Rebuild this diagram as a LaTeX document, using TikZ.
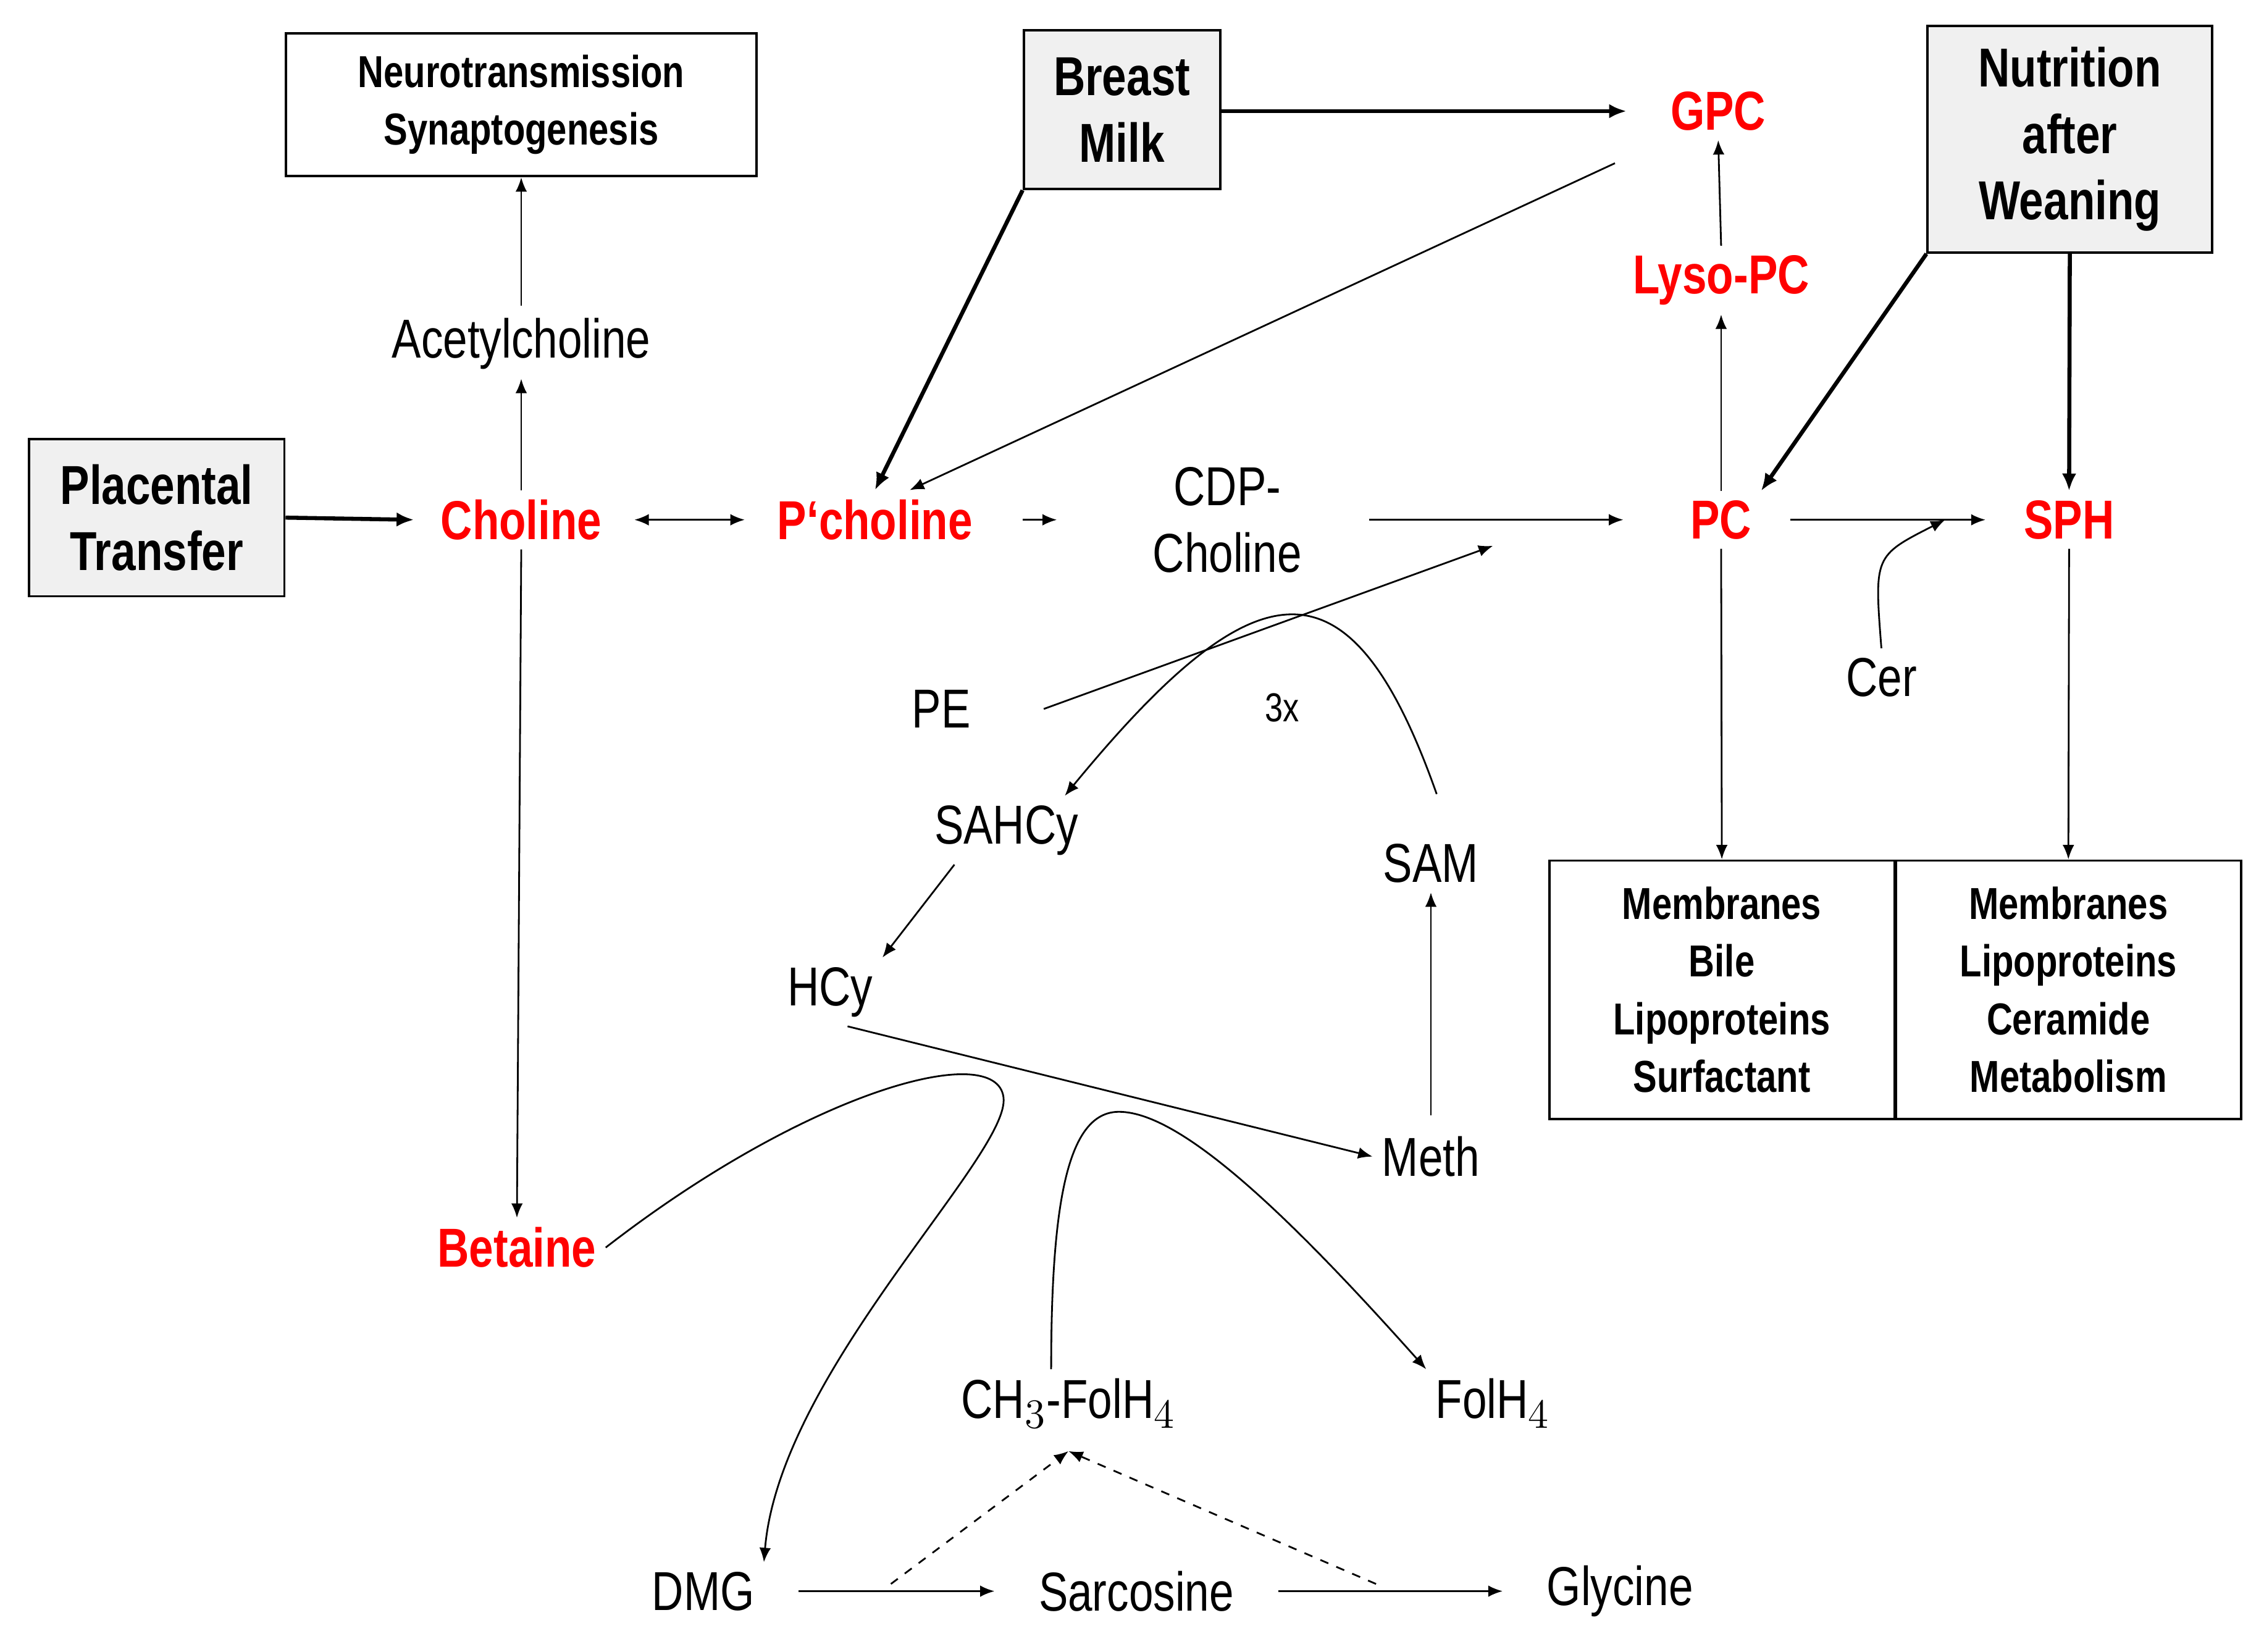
\documentclass[tikz,border=0pt]{standalone}
\usepackage{fontspec}
\setmainfont{Liberation Sans}[FakeStretch=0.8]
\usetikzlibrary{arrows.meta}
\definecolor{boxgray}{RGB}{240,240,240}
\tikzset{every picture/.style={line width=0.6pt}}
\tikzset{
  lbl/.style={font=\fontsize{19}{22}\selectfont, inner sep=3pt, align=center},
  red lbl/.style={font=\fontsize{19}{22}\selectfont\bfseries, text=red, inner sep=3pt},
  info box/.style={draw, line width=0.8pt, font=\fontsize{15.5}{20}\selectfont\bfseries, align=center},
  src box/.style={draw, line width=0.8pt, fill=boxgray, font=\fontsize{19}{23}\selectfont\bfseries, align=center},
  arr/.style={-{Latex[length=5pt,width=4pt]}},
  both arr/.style={{Latex[length=5pt,width=4pt]}-{Latex[length=5pt,width=4pt]}},
  thick arr/.style={-{Latex[length=6pt,width=5pt]}, line width=1.4pt},
}

\begin{document}
\begin{tikzpicture}[x=0.5pt,y=-0.5pt]
\useasboundingbox (0,0) rectangle (1568,1144);

% boxes
\node[info box, minimum width=163pt, minimum height=49.5pt] (neuro) at (361,72.5) {Neurotransmission\\Synaptogenesis};
\node[src box, minimum width=68pt, minimum height=55pt] (milk) at (777,76) {Breast\\Milk};
\node[src box, minimum width=98.5pt, minimum height=78.5pt] (nutr) at (1433.5,96.5) {Nutrition\\after\\Weaning};
\node[src box, minimum width=88.5pt, minimum height=54.5pt] (plac) at (108.5,358.5) {Placental\\Transfer};
\node[info box, minimum width=119.5pt, minimum height=89.5pt] (memA) at (1192.5,685.5) {Membranes\\Bile\\Lipoproteins\\Surfactant};
\node[info box, minimum width=119.5pt, minimum height=89.5pt] (memB) at (1432.5,685.5) {Membranes\\Lipoproteins\\Ceramide\\Metabolism};

% metabolites
\node[lbl] (ach) at (361,238) {Acetylcholine};
\node[red lbl] (chol) at (361,360) {Choline};
\node[red lbl] (pchol) at (606,360) {P‘choline};
\node[lbl, font=\fontsize{19}{23}\selectfont] (cdp) at (850,360) {CDP-\\Choline};
\node[red lbl] (pc) at (1192,360) {PC};
\node[red lbl] (sph) at (1433,360) {SPH};
\node[red lbl] (gpc) at (1190,77) {GPC};
\node[red lbl] (lyso) at (1192,194) {Lyso-PC};
\node[lbl] (cer) at (1303,469) {Cer};
\node[lbl] (pe) at (652,491) {PE};
\node[lbl, font=\fontsize{14}{16}\selectfont] (three) at (888,490) {3x};
\node[lbl] (sahcy) at (697,575) {SAHCy};
\node[lbl] (sam) at (991,598) {SAM};
\node[lbl] (hcy) at (575,687) {HCy};
\node[lbl] (meth) at (991,801) {Meth};
\node[red lbl] (bet) at (358,864) {Betaine};
\node[lbl] (mfol) at (740,972) {CH$_3$-FolH$_4$};
\node[lbl] (fol) at (1034,972) {FolH$_4$};
\node[lbl] (dmg) at (487,1102) {DMG};
\node[lbl] (sarc) at (787,1102) {Sarcosine};
\node[lbl] (gly) at (1122,1102) {Glycine};
\coordinate (cdpin) at (1034,378);
\coordinate (fpt) at (740,1005);

% connectors
\draw[arr] (ach.north) ++(0,-2) -- (neuro.south);
\draw[arr] (chol.north) -- (ach.south);
\draw[thick arr] (plac.east) -- ([xshift=-6pt]chol.west);
\draw[both arr, shorten <=8pt, shorten >=8pt] (chol.east) -- (pchol.west);
\draw[arr, shorten <=14pt, shorten >=14pt] (pchol.east) -- (cdp.east -| 760,0);
\draw[arr] ([xshift=20pt]cdp.east) -- ([xshift=-20pt]pc.west);
\draw[arr] ([xshift=22pt]pe.east) -- (cdpin);
\draw[arr, shorten <=10pt, shorten >=10pt] (pc.east) -- (sph.west);
\draw[arr] (cer.north) .. controls (1298,385) .. ([xshift=-24pt]sph.west);
\draw[arr] (pc.north) -- (lyso.south);
\draw[arr] (lyso.north) -- (gpc.south);
\draw[thick arr] (milk.east |- gpc) -- ([xshift=-12pt]gpc.west);
\draw[thick arr] (milk.south west) -- (pchol.north);
\draw[arr] ([xshift=-16pt,yshift=-8pt]gpc.south west) -- ([xshift=12pt]pchol.north);
\draw[thick arr] (nutr.south west) -- (pc.north east);
\draw[thick arr] (nutr.south) -- (sph.north);
\draw[arr] (pc.south) -- (memA.north);
\draw[arr] (sph.south) -- (memB.north);
\draw[arr] (chol.south) -- (bet.north);
\draw[arr] (sam.north) ++(4,-28) .. controls (935,380) and (870,390) .. ([xshift=-8pt]sahcy.north east);
\draw[arr] ([xshift=-18pt]sahcy.south) -- (hcy.north east);
\draw[arr] (meth.north) ++(0,-8) -- (sam.south);
\draw[arr] ([xshift=6pt]hcy.south) -- (meth.west);
\draw[arr] (bet.east) .. controls (560,755) and (690,720) .. (695,760) .. controls (700,800) and (540,950) .. (dmg.north east);
\draw[arr] ([xshift=-6pt]mfol.north) .. controls (728,830) and (740,770) .. (775,770) .. controls (820,770) and (900,850) .. (fol.north west);
\draw[arr, shorten <=12pt, shorten >=12pt] (dmg.east) -- (sarc.west);
\draw[arr, shorten <=12pt, shorten >=12pt] (sarc.east) -- (gly.west);
\draw[arr, dashed] (617,1097) -- (fpt);
\draw[arr, dashed] (953,1097) -- (fpt);
\end{tikzpicture}
\end{document}
